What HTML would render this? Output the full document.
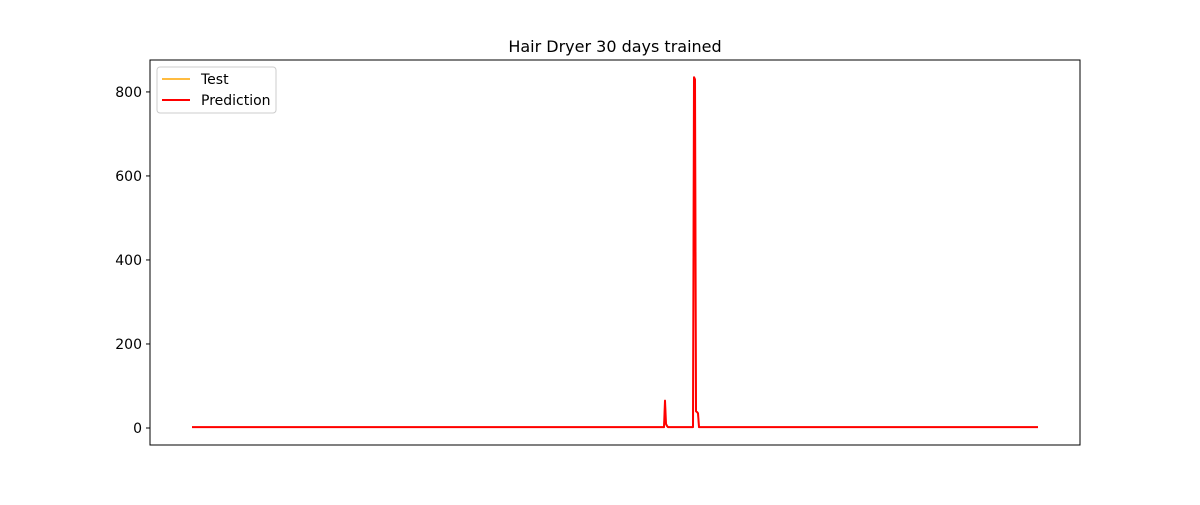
<!DOCTYPE html>
<html><head><meta charset="utf-8"><style>
body{margin:0;background:#fff}
svg{font-family:"DejaVu Sans","Liberation Sans",sans-serif}
</style></head><body>
<svg id="chart" width="1200" height="500">
<rect x="0" y="0" width="1200" height="500" fill="#fff"/>
<text x="615" y="52" text-anchor="middle" font-size="16">Hair Dryer 30 days trained</text>
<g id="yaxis"></g>
<g id="plot"></g>
<rect x="150" y="60" width="930" height="385" fill="none" stroke="#000" stroke-width="1"/>
<g>
<rect x="157" y="67" width="119" height="46" rx="3" fill="#fff" stroke="#ccc"/>
<line x1="162" y1="79" x2="190" y2="79" stroke="orange" stroke-width="1.5"/>
<text x="201" y="84" font-size="14">Test</text>
<line x1="162" y1="100" x2="190" y2="100" stroke="red" stroke-width="2"/>
<text x="201" y="105" font-size="14">Prediction</text>
</g>
</svg>
<script>
const yTicks=[0,200,400,600,800];
const nPoints=847;
const baseline=2;
const spikeIdx=[473,474,475,502,503,504,505,506];
const predVals=[65,10,5,835,830,40,38,35];
const testVals=[64,9,4,834,829,39,37,34];
const NS="http://www.w3.org/2000/svg";
const x0=192,x1=1038,yMin=-40.5,yMax=876,plotTop=60,plotBot=445;
function xs(i){return x0+(x1-x0)*i/(nPoints-1);}
function ys(v){return plotBot-(v-yMin)/(yMax-yMin)*(plotBot-plotTop);}
const ya=document.getElementById('yaxis');
yTicks.forEach(t=>{
 const l=document.createElementNS(NS,'line');
 l.setAttribute('x1',146);l.setAttribute('x2',150);l.setAttribute('y1',ys(t));l.setAttribute('y2',ys(t));l.setAttribute('stroke','#000');
 
 
 ya.appendChild(l);
 const tx=document.createElementNS(NS,'text');
 tx.setAttribute('x',142);tx.setAttribute('y',ys(t)+5);tx.setAttribute('text-anchor','end');tx.setAttribute('font-size','14');
 tx.textContent=t;
 
 
 ya.appendChild(tx);
});
function series(vals){
 const arr=new Array(nPoints).fill(baseline);
 spikeIdx.forEach((i,k)=>arr[i]=vals[k]);
 return arr;
}
function draw(vals,color,w,name){
 const a=series(vals);
 const p=document.createElementNS(NS,'polyline');
 p.setAttribute('points',a.map((v,i)=>xs(i).toFixed(2)+','+ys(v).toFixed(2)).join(' '));
 p.setAttribute('fill','none');p.setAttribute('stroke',color);p.setAttribute('stroke-width',w);p.setAttribute('stroke-linejoin','round');
 
 
 document.getElementById('plot').appendChild(p);
}
draw(testVals,'orange',1.5,'test-line');
draw(predVals,'red',2,'prediction-line');
</script>
</body></html>
